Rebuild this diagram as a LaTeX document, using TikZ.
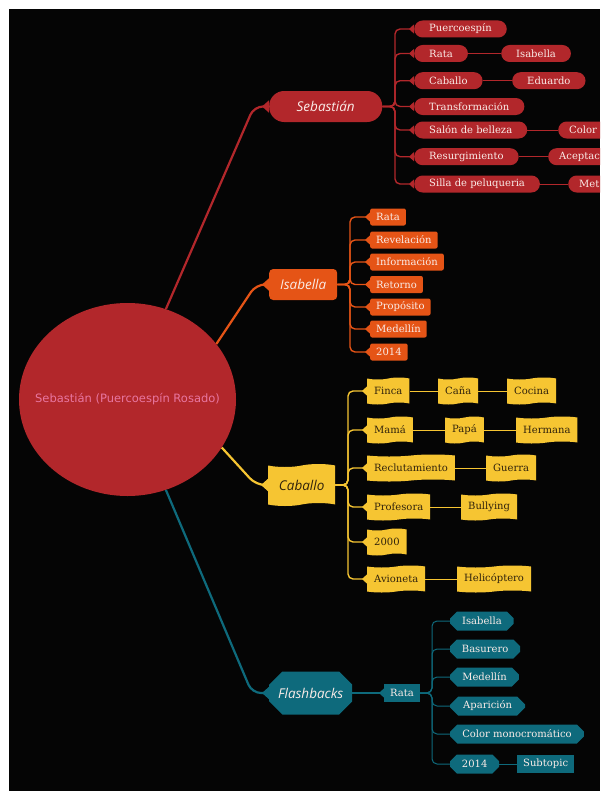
\documentclass[tikz,border=0pt]{standalone}
\usepackage{fontspec}
\setmainfont{DejaVu Serif}
\newfontfamily\topicfont{Open Sans}
\newfontfamily\rootfont{DejaVu Sans}
\usetikzlibrary{arrows, arrows.meta, shapes.geometric, shapes.misc, shapes.symbols}

\definecolor{bgblack}{RGB}{5,5,5}
\definecolor{sebred}{RGB}{178,39,43}
\definecolor{isaorange}{RGB}{229,84,22}
\definecolor{cabyellow}{RGB}{246,197,50}
\definecolor{flateal}{RGB}{14,106,124}
\definecolor{rootpink}{RGB}{232,118,160}
\definecolor{lighttext}{RGB}{250,236,232}
\definecolor{darktext}{RGB}{48,34,12}

\tikzset{
  subfont/.style={font=\fontsize{10}{11}\selectfont},
  mainfont/.style={font=\topicfont\itshape\fontsize{13.5}{14}\selectfont},
  bigtip/.style={-{Triangle[reversed, length=7pt, width=12pt]}},
  smalltip/.style={-{Triangle[reversed, length=5pt, width=9pt]}},
  seblink/.style={draw=sebred, line width=1.4pt, rounded corners=5pt},
  isalink/.style={draw=isaorange, line width=1.4pt, rounded corners=5pt},
  cablink/.style={draw=cabyellow, line width=1.4pt, rounded corners=5pt},
  flalink/.style={draw=flateal, line width=1.4pt, rounded corners=5pt},
  pairlink/.style={line width=0.8pt},
  sebtopic/.style={fill=sebred, text=lighttext, mainfont, rounded corners=15pt,
    minimum width=113pt, minimum height=31pt, anchor=west},
  sebsub/.style={fill=sebred, text=lighttext, subfont, rounded corners=8.5pt,
    minimum height=17pt, inner xsep=15pt, inner ysep=0pt, anchor=west},
  sebcut/.style={sebsub, text width=60pt, align=left, inner xsep=11pt},
  isatopic/.style={fill=isaorange, text=lighttext, mainfont, rounded corners=4pt,
    minimum width=68pt, minimum height=31pt, anchor=west},
  isasub/.style={fill=isaorange, text=lighttext, subfont, rounded corners=2pt,
    minimum height=17pt, inner xsep=6pt, inner ysep=0pt, anchor=west},
  cabtopic/.style={tape, tape bend height=3pt, fill=cabyellow, text=darktext, mainfont,
    minimum width=67pt, minimum height=42pt, anchor=west},
  cabsub/.style={tape, tape bend height=2pt, fill=cabyellow, text=darktext, subfont,
    minimum height=27pt, inner xsep=7pt, inner ysep=0pt, anchor=west},
  flatopic/.style={chamfered rectangle, chamfered rectangle xsep=18pt,
    chamfered rectangle ysep=8pt, fill=flateal, text=lighttext, mainfont,
    minimum width=83pt, minimum height=43pt, inner sep=0pt, anchor=west},
  flasub/.style={chamfered rectangle, chamfered rectangle xsep=6pt,
    chamfered rectangle ysep=3pt, fill=flateal, text=lighttext, subfont,
    minimum height=19pt, inner xsep=8pt, inner ysep=0pt, anchor=west},
  flabox/.style={fill=flateal, text=lighttext, subfont,
    minimum height=18pt, inner xsep=6pt, inner ysep=0pt, anchor=west}
}

\begin{document}
\begin{tikzpicture}[x=1pt, y=-1pt]
\useasboundingbox (0,0) rectangle (600,792);
\fill[white] (0,0) rectangle (600,792);
\fill[bgblack] (9,9) rectangle (600,791);
\clip (9,9) rectangle (600,791);

% central topic
\node[ellipse, fill=sebred, minimum width=217pt, minimum height=193pt, inner sep=0pt,
  label={[text=rootpink, font=\rootfont\fontsize{11.5}{12}\selectfont]center:Sebastián (Puercoespín Rosado)}]
  (root) at (127.5,399.5) {};

% main topics
\node[sebtopic] (seb) at (269,106.5) {Sebastián};
\node[isatopic] (isa) at (269,284.5) {Isabella};
\node[cabtopic] (cab) at (268,485)   {Caballo};
\node[flatopic] (fla) at (269,693)   {Flashbacks};

\coordinate (sebbend) at (254,106.5);
\coordinate (isabend) at (256,284.5);
\coordinate (cabbend) at (256,485);
\coordinate (flabend) at (252,693);

\draw[seblink, line width=2.2pt, rounded corners=9pt, bigtip] (root.67.7)  -- (sebbend) -- (seb.west);
\draw[isalink, line width=2.2pt, rounded corners=9pt, bigtip] (root.32.7)  -- (isabend) -- (isa.west);
\draw[cablink, line width=2.2pt, rounded corners=9pt, bigtip] (root.-27.6) -- (cabbend) -- (cab.west);
\draw[flalink, line width=2.2pt, rounded corners=9pt, bigtip] (root.-67.5) -- (flabend) -- (fla.west);

% Sebastian
\node[sebsub] (sPuer)   at (414,29)    {Puercoespín};
\node[sebsub] (sRata)   at (414,53.5)  {Rata};
\node[sebsub] (sIsa)    at (501,53.5)  {Isabella};
\node[sebsub] (sCab)    at (414,80.7)  {Caballo};
\node[sebsub] (sEdu)    at (512,80.7)  {Eduardo};
\node[sebsub] (sTrans)  at (414,106.5) {Transformación};
\node[sebsub] (sSalon)  at (414,130)   {Salón de belleza};
\node[sebcut] (sColor)  at (558,130)   {Color};
\node[sebsub] (sResur)  at (414,156.7) {Resurgimiento};
\node[sebcut] (sAcep)   at (548,156.7) {Aceptac};
\node[sebsub] (sSilla)  at (414,184)   {Silla de peluqueria};
\node[sebcut] (sMet)    at (568,184)   {Met};

\coordinate (sebfork) at (395,106.5);
\foreach \n in {sPuer, sRata, sCab, sTrans, sSalon, sResur, sSilla}
  \draw[seblink, smalltip] (seb.east) -- (sebfork) |- (\n.west);
\draw[seblink, pairlink] (sRata.east)  -- (sIsa.west);
\draw[seblink, pairlink] (sCab.east)   -- (sEdu.west);
\draw[seblink, pairlink] (sSalon.east) -- (sColor.west);
\draw[seblink, pairlink] (sResur.east) -- (sAcep.west);
\draw[seblink, pairlink] (sSilla.east) -- (sMet.west);

% Isabella
\node[isasub] (iRata)  at (370,217) {Rata};
\node[isasub] (iRevel) at (370,240) {Revelación};
\node[isasub] (iInfo)  at (370,262) {Información};
\node[isasub] (iRet)   at (370,284.5) {Retorno};
\node[isasub] (iProp)  at (370,307) {Propósito};
\node[isasub] (iMed)   at (370,329) {Medellín};
\node[isasub] (iYear)  at (370,352) {2014};

\coordinate (isafork) at (350,284.5);
\foreach \n in {iRata, iRevel, iInfo, iRet, iProp, iMed, iYear}
  \draw[isalink, smalltip] (isa.east) -- (isafork) |- (\n.west);

% Caballo
\node[cabsub] (cFinca)  at (367,391) {Finca};
\node[cabsub] (cCana)   at (438,391) {Caña};
\node[cabsub] (cCocina) at (507,391) {Cocina};
\node[cabsub] (cMama)   at (367,430) {Mamá};
\node[cabsub] (cPapa)   at (445,430) {Papá};
\node[cabsub] (cHerm)   at (516,430) {Hermana};
\node[cabsub] (cRecl)   at (367,468) {Reclutamiento};
\node[cabsub] (cGuerra) at (486,468) {Guerra};
\node[cabsub] (cProf)   at (367,507) {Profesora};
\node[cabsub] (cBull)   at (461,507) {Bullying};
\node[cabsub] (cYear)   at (367,542) {2000};
\node[cabsub] (cAvio)   at (367,579) {Avioneta};
\node[cabsub] (cHeli)   at (457,579) {Helicóptero};

\coordinate (cabfork) at (348,485);
\foreach \n in {cFinca, cMama, cRecl, cProf, cYear, cAvio}
  \draw[cablink, smalltip] (cab.east) -- (cabfork) |- (\n.west);
\draw[cablink, pairlink] (cFinca.east) -- (cCana.west);
\draw[cablink, pairlink] (cCana.east)  -- (cCocina.west);
\draw[cablink, pairlink] (cMama.east)  -- (cPapa.west);
\draw[cablink, pairlink] (cPapa.east)  -- (cHerm.west);
\draw[cablink, pairlink] (cRecl.east)  -- (cGuerra.west);
\draw[cablink, pairlink] (cProf.east)  -- (cBull.west);
\draw[cablink, pairlink] (cAvio.east)  -- (cHeli.west);

% Flashbacks
\node[flabox] (fRata) at (384,693) {Rata};
\draw[flalink, smalltip] (fla.east) -- (fRata.west);

\node[flasub] (fIsa)   at (450,621) {Isabella};
\node[flasub] (fBas)   at (450,649) {Basurero};
\node[flasub] (fMed)   at (450,677) {Medellín};
\node[flasub] (fApar)  at (450,706) {Aparición};
\node[flasub] (fColor) at (450,734) {Color monocromático};
\node[flasub] (fYear)  at (450,764) {2014};
\node[flabox] (fSub)   at (517,764) {Subtopic};

\coordinate (ratfork) at (432,693);
\foreach \n in {fIsa, fBas, fMed, fApar, fColor, fYear}
  \draw[flalink, line width=1pt] (fRata.east) -- (ratfork) |- (\n.west);
\draw[flalink, pairlink] (fYear.east) -- (fSub.west);

\end{tikzpicture}
\end{document}
